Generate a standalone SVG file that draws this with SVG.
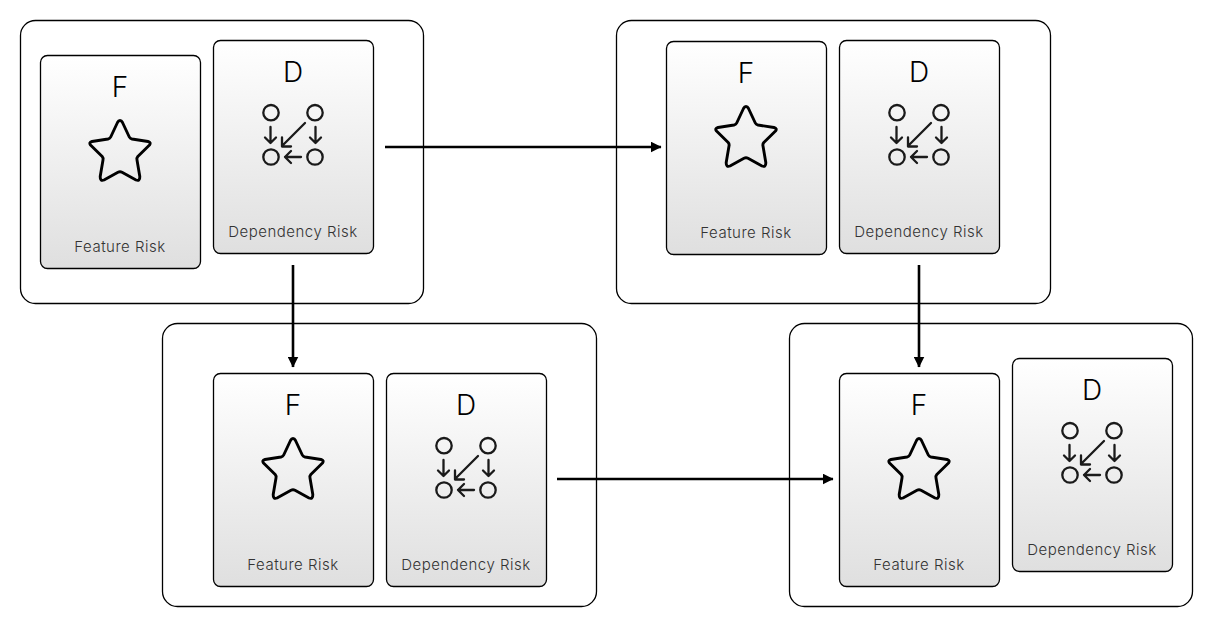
<svg xmlns="http://www.w3.org/2000/svg" xmlns:xlink="http://www.w3.org/1999/xlink" width="1212" height="626" viewBox="0 0 1212 626">
<style>
.panel{fill:#fff;stroke:#000;stroke-width:1.3}
.card{fill:url(#g);stroke:#000;stroke-width:1.3}
.big{font-family:"Inter","Liberation Sans",sans-serif;font-weight:300;font-size:28px;fill:#000;text-anchor:middle}
.lab{font-family:"Inter","Liberation Sans",sans-serif;font-weight:300;font-size:15px;letter-spacing:.5px;fill:#333;text-anchor:middle}
.ic{fill:none;stroke:#000;stroke-linecap:round;stroke-linejoin:round}
.dp{stroke:#1a1a1a}
.conn{fill:none;stroke:#000;stroke-width:2.6}
</style>
<defs>
<linearGradient id="g" x1="0" y1="0" x2="0" y2="1"><stop offset="0" stop-color="#fff"/><stop offset="1" stop-color="#dfdfdf"/></linearGradient>
<marker id="a" viewBox="0 0 10 10" refX="9.5" refY="5" markerWidth="11" markerHeight="11" markerUnits="userSpaceOnUse" orient="auto"><path d="M0 0L10 5L0 10z" fill="#000"/></marker>
<path id="star" class="ic" stroke-width="2.9" d="M120 120.500Q121.500 120.500 122.500 122.500L129.300 137Q130 138.500 132 139L148 141.500Q151.500 142.500 149.500 145L137.800 156.500Q136.500 158 137 160L139.800 176.500Q140 181.500 136 180L122 172.300Q120 171.300 118 172.300L104 180Q100 181.500 100.200 176.500L103 160Q103.500 158 102.200 156.500L90.500 145Q88.500 142.500 92 141.500L108 139Q110 138.500 110.700 137L117.500 122.500Q118.500 120.500 120 120.500Z"/>
<g id="dep" class="ic dp" stroke-width="2.3">
<circle cx="271" cy="112.700" r="7.700"/><circle cx="315" cy="112.700" r="7.700"/><circle cx="271" cy="157" r="7.700"/><circle cx="315" cy="157" r="7.700"/>
<path d="M270.500 127V143M265 137.500L270.500 143L276 137.500"/>
<path d="M315.500 127V143M310 137.500L315.500 143L321 137.500"/>
<path d="M305 123L282 146M282 137.500V146.500H291"/>
<path d="M301 157H285M291 151L285 157L291 163"/>
</g>
</defs>
<rect width="1212" height="626" fill="#fff"/>
<g id="panel-1"><rect class="panel" x="20.500" y="20.500" width="403" height="283" rx="15"/></g>
<g id="panel-2"><rect class="panel" x="616.500" y="20.500" width="434" height="283" rx="15"/></g>
<g id="panel-3"><rect class="panel" x="162.500" y="323.500" width="434" height="283" rx="15"/></g>
<g id="panel-4"><rect class="panel" x="789.500" y="323.500" width="403" height="283" rx="15"/></g>

<g id="p1-feature"><rect class="card" x="40.500" y="55.500" width="160" height="213" rx="7"/><text class="big" x="120" y="97">F</text><use xlink:href="#star"/><text class="lab" x="120" y="252">Feature Risk</text></g>
<g id="p1-dependency"><rect class="card" x="213.500" y="40.500" width="160" height="213" rx="7"/><text class="big" x="293" y="82">D</text><use xlink:href="#dep"/><text class="lab" x="293" y="237">Dependency Risk</text></g>

<g id="p2-feature"><rect class="card" x="666.500" y="41.500" width="160" height="213" rx="7"/><text class="big" x="746" y="83">F</text><use xlink:href="#star" transform="translate(626 -14)"/><text class="lab" x="746" y="238">Feature Risk</text></g>
<g id="p2-dependency"><rect class="card" x="839.500" y="40.500" width="160" height="213" rx="7"/><text class="big" x="919" y="82">D</text><use xlink:href="#dep" transform="translate(626 0)"/><text class="lab" x="919" y="237">Dependency Risk</text></g>

<g id="p3-feature"><rect class="card" x="213.500" y="373.500" width="160" height="213" rx="7"/><text class="big" x="293" y="415">F</text><use xlink:href="#star" transform="translate(173 318)"/><text class="lab" x="293" y="570">Feature Risk</text></g>
<g id="p3-dependency"><rect class="card" x="386.500" y="373.500" width="160" height="213" rx="7"/><text class="big" x="466" y="415">D</text><use xlink:href="#dep" transform="translate(173 333)"/><text class="lab" x="466" y="570">Dependency Risk</text></g>

<g id="p4-feature"><rect class="card" x="839.500" y="373.500" width="160" height="213" rx="7"/><text class="big" x="919" y="415">F</text><use xlink:href="#star" transform="translate(799 318)"/><text class="lab" x="919" y="570">Feature Risk</text></g>
<g id="p4-dependency"><rect class="card" x="1012.500" y="358.500" width="160" height="213" rx="7"/><text class="big" x="1092" y="400">D</text><use xlink:href="#dep" transform="translate(799 318)"/><text class="lab" x="1092" y="555">Dependency Risk</text></g>

<g id="connectors">
<path class="conn" marker-end="url(#a)" d="M385 147H661"/>
<path class="conn" marker-end="url(#a)" d="M293 265V367"/>
<path class="conn" marker-end="url(#a)" d="M919 265V367"/>
<path class="conn" marker-end="url(#a)" d="M557 479H833"/>
</g>
</svg>
